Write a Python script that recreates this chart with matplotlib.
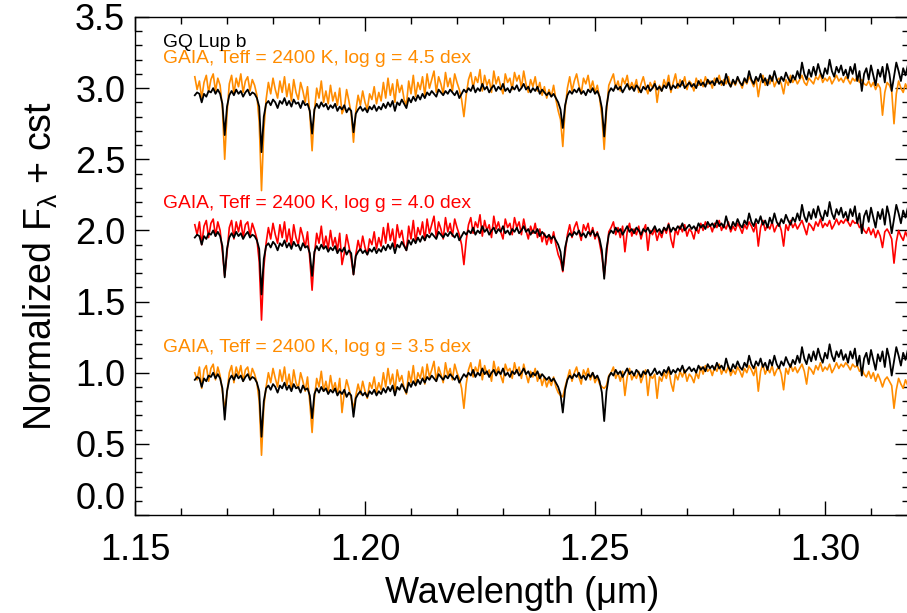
import numpy as np
import matplotlib
matplotlib.use('Agg')
import matplotlib.pyplot as plt
from matplotlib.ticker import MultipleLocator, FormatStrFormatter, FuncFormatter

plt.rcParams['font.family'] = ['Liberation Sans', 'DejaVu Sans']
plt.rcParams['mathtext.default'] = 'regular'

# wavelength grid (um), 0.0005 um sampling
lam_start, lam_step, npts = 1.1630, 0.0005, 314
wave = lam_start + lam_step * np.arange(npts)

# GQ Lup b, normalized (plotted with offsets 0, 1, 2)
gqlup = [
    0.95, 0.97, 0.96, 0.90, 0.96, 0.94, 0.98, 0.97, 1.00, 0.96, 0.99, 0.96, 0.89, 0.67, 0.87, 0.95, 0.98, 0.95, 0.99, 0.96,
    0.98, 0.94, 0.97, 0.99, 0.95, 0.97, 0.96, 0.93, 0.87, 0.55, 0.80, 0.89, 0.91, 0.88, 0.92, 0.90, 0.86, 0.91, 0.89, 0.93,
    0.88, 0.91, 0.87, 0.92, 0.89, 0.90, 0.86, 0.91, 0.88, 0.89, 0.84, 0.68, 0.85, 0.89, 0.86, 0.90, 0.87, 0.89, 0.85, 0.88,
    0.86, 0.89, 0.84, 0.87, 0.85, 0.88, 0.83, 0.86, 0.84, 0.69, 0.82, 0.85, 0.87, 0.84, 0.86, 0.83, 0.87, 0.85, 0.88, 0.84,
    0.87, 0.85, 0.89, 0.86, 0.90, 0.87, 0.91, 0.84, 0.90, 0.88, 0.92, 0.89, 0.86, 0.93, 0.90, 0.94, 0.91, 0.95, 0.92, 0.96,
    0.93, 0.97, 0.95, 0.98, 0.96, 0.94, 0.99, 0.97, 0.95, 0.98, 0.96, 0.99, 0.97, 0.95, 0.98, 0.93, 0.96, 0.99, 0.97, 1.00,
    0.98, 1.02, 0.97, 1.00, 0.98, 1.03, 0.99, 1.01, 0.97, 1.00, 1.02, 0.98, 1.01, 0.99, 1.03, 0.98, 1.00, 0.97, 1.01, 0.99,
    1.02, 0.98, 1.00, 1.03, 0.99, 1.01, 0.97, 1.00, 0.98, 1.01, 0.96, 0.99, 0.97, 0.95, 0.97, 0.94, 0.96, 0.93, 0.90, 0.85,
    0.72, 0.88, 0.95, 0.98, 0.96, 0.99, 0.97, 1.00, 0.96, 0.98, 0.95, 0.99, 0.97, 1.00, 0.96, 0.98, 0.94, 0.86, 0.66, 0.87,
    0.97, 1.00, 0.98, 1.02, 0.99, 1.01, 0.97, 1.00, 1.03, 0.99, 1.01, 0.98, 1.02, 1.00, 0.97, 1.01, 0.99, 1.02, 0.98, 1.00,
    1.03, 0.99, 1.01, 0.98, 1.02, 1.00, 1.04, 0.99, 1.02, 1.00, 1.03, 1.01, 1.05, 1.00, 1.02, 1.04, 1.01, 1.03, 1.00, 1.05,
    1.02, 1.04, 1.01, 1.06, 1.03, 1.05, 1.02, 1.07, 1.03, 1.05, 1.02, 1.10, 1.04, 1.01, 1.06, 1.03, 1.08, 1.04, 1.02, 1.07,
    1.04, 1.12, 1.06, 1.03, 1.08, 1.05, 1.10, 1.04, 1.07, 1.02, 1.09, 1.05, 1.12, 1.06, 1.03, 1.08, 1.05, 1.11, 1.07, 1.04,
    1.09, 1.06, 1.12, 1.07, 1.18, 1.10, 1.06, 1.13, 1.08, 1.15, 1.09, 1.17, 1.11, 1.07, 1.14, 1.10, 1.20, 1.12, 1.08, 1.15,
    1.11, 1.16, 1.09, 1.13, 1.07, 1.15, 1.10, 1.17, 1.05, 1.12, 0.98, 1.10, 1.14, 1.06, 1.16, 1.09, 1.02, 1.13, 1.08, 1.15,
    1.04, 1.17, 1.10, 0.98, 1.08, 1.18, 1.12, 1.05, 1.14, 1.09, 1.16, 1.10, 1.13, 1.08,
]

# GAIA Teff=2400 K, log g = 4.5
gaia_45 = [
    1.08, 0.99, 1.05, 0.93, 1.04, 1.09, 0.97, 1.06, 1.10, 0.98, 1.07, 1.02, 0.86, 0.50, 0.82, 1.03, 1.09, 0.96, 1.07, 1.01,
    1.10, 0.97, 1.05, 1.08, 0.98, 1.06, 1.02, 0.95, 0.76, 0.28, 0.70, 0.92, 1.04, 0.96, 1.07, 0.99, 0.93, 1.05, 0.97, 1.08,
    0.94, 1.03, 0.91, 1.06, 0.97, 0.92, 1.04, 0.98, 0.90, 1.01, 0.82, 0.56, 0.84, 1.00, 0.93, 1.05, 0.90, 0.98, 0.89, 1.02,
    0.91, 0.97, 0.88, 1.00, 0.82, 0.86, 0.99, 0.91, 0.82, 0.62, 0.84, 0.95, 0.88, 0.98, 0.90, 0.85, 0.96, 0.92, 1.01, 0.89,
    0.97, 0.91, 1.04, 0.93, 1.07, 0.95, 1.03, 0.90, 1.06, 0.97, 1.02, 0.92, 0.88, 1.05, 0.96, 1.09, 0.94, 1.04, 0.99, 1.08,
    0.95, 1.10, 1.00, 1.06, 1.12, 0.97, 1.08, 1.03, 0.96, 1.11, 1.01, 1.07, 0.98, 1.10, 1.04, 0.99, 0.92, 0.80, 0.95, 1.06,
    1.11, 1.00, 1.08, 1.04, 1.13, 0.98, 1.09, 1.02, 1.06, 0.97, 1.12, 1.03, 1.08, 1.01, 0.96, 1.10, 1.04, 1.07, 0.99, 1.11,
    1.05, 1.09, 1.00, 1.12, 1.03, 0.97, 1.06, 1.01, 1.08, 0.98, 1.04, 0.95, 1.01, 0.93, 0.99, 0.94, 1.02, 0.92, 0.84, 0.78,
    0.59, 0.85, 1.00, 1.08, 0.98, 1.05, 1.10, 1.02, 0.96, 1.07, 1.03, 1.09, 0.99, 1.05, 0.97, 1.02, 0.93, 0.80, 0.57, 0.84,
    1.02, 1.06, 1.10, 1.00, 1.05, 0.98, 1.07, 1.03, 1.09, 0.99, 1.04, 1.00, 1.06, 0.97, 1.03, 1.08, 1.01, 0.96, 1.04, 1.00,
    1.05, 0.90, 1.02, 0.98, 1.06, 1.01, 1.09, 0.97, 1.04, 1.10, 1.00, 1.06, 1.02, 1.08, 0.99, 1.05, 1.03, 0.98, 1.07, 1.02,
    1.06, 1.01, 1.08, 1.03, 1.05, 1.00, 1.07, 1.04, 1.09, 1.02, 1.06, 1.03, 1.08, 1.01, 1.05, 1.02, 1.07, 1.04, 1.00, 1.06,
    1.03, 1.08, 1.05, 1.01, 1.07, 0.94, 1.04, 1.09, 1.02, 1.06, 1.03, 1.08, 1.01, 1.05, 1.07, 1.03, 0.96, 1.06, 1.02, 1.09,
    1.04, 1.07, 1.03, 1.06, 1.09, 1.04, 1.02, 1.07, 1.05, 1.03, 1.08, 1.06, 1.10, 1.04, 1.07, 1.05, 1.08, 1.03, 1.06, 1.09,
    1.05, 1.07, 1.04, 1.08, 1.06, 1.03, 1.07, 1.05, 1.08, 1.04, 1.06, 1.03, 1.02, 1.05, 1.01, 1.04, 0.99, 1.03, 1.00, 0.81,
    0.97, 1.04, 1.02, 0.98, 0.75, 0.96, 1.05, 1.00, 0.97, 1.03, 0.99, 0.95, 1.01, 0.97,
]

# GAIA Teff=2400 K, log g = 4.0
gaia_40 = [
    1.04, 0.97, 1.06, 0.90, 1.03, 1.07, 0.95, 1.05, 1.08, 0.96, 1.06, 1.00, 0.85, 0.68, 0.84, 1.02, 1.07, 0.94, 1.06, 0.99,
    1.07, 0.95, 1.04, 1.06, 0.96, 1.05, 1.00, 0.94, 0.78, 0.37, 0.74, 0.91, 1.02, 0.94, 1.05, 0.97, 0.91, 1.04, 0.95, 1.06,
    0.92, 1.01, 0.89, 1.04, 0.95, 0.90, 1.02, 0.96, 0.88, 0.99, 0.80, 0.58, 0.83, 0.98, 0.91, 1.03, 0.88, 0.96, 0.87, 1.00,
    0.89, 0.95, 0.86, 0.98, 0.76, 0.84, 0.97, 0.89, 0.80, 0.69, 0.83, 0.93, 0.86, 0.96, 0.88, 0.83, 0.94, 0.90, 0.99, 0.87,
    0.95, 0.89, 1.02, 0.91, 1.05, 0.93, 1.01, 0.88, 1.04, 0.95, 1.00, 0.90, 0.86, 1.03, 0.94, 1.07, 0.92, 1.02, 0.97, 1.06,
    0.93, 1.08, 0.98, 1.04, 1.10, 0.95, 1.06, 1.01, 0.94, 1.09, 0.99, 1.05, 0.96, 1.08, 1.02, 0.97, 0.90, 0.76, 0.93, 1.04,
    1.09, 0.98, 1.06, 1.02, 1.11, 0.96, 1.07, 1.00, 1.04, 0.95, 1.10, 1.01, 1.06, 0.99, 0.94, 1.08, 1.02, 1.05, 0.97, 1.09,
    1.02, 1.06, 0.97, 1.08, 1.00, 0.94, 1.03, 0.98, 1.05, 0.95, 1.01, 0.92, 0.98, 0.90, 0.96, 0.91, 0.99, 0.90, 0.83, 0.79,
    0.71, 0.84, 0.97, 1.04, 0.95, 1.02, 1.06, 0.99, 0.93, 1.04, 1.00, 1.05, 0.96, 1.02, 0.94, 0.99, 0.91, 0.82, 0.68, 0.83,
    0.99, 1.02, 1.06, 0.97, 1.02, 0.95, 1.03, 0.85, 0.99, 1.05, 0.96, 1.01, 0.97, 1.03, 0.94, 1.00, 1.04, 0.86, 1.00, 0.97,
    1.01, 0.93, 0.99, 0.95, 1.02, 0.98, 1.05, 0.94, 0.88, 1.01, 0.97, 1.03, 0.99, 1.04, 0.96, 1.01, 0.99, 0.94, 1.02, 0.98,
    1.05, 1.00, 1.06, 1.02, 1.04, 0.99, 1.05, 1.02, 1.07, 1.00, 1.04, 1.01, 1.06, 0.99, 1.03, 1.00, 1.05, 1.02, 0.98, 1.04,
    1.01, 1.06, 1.03, 0.99, 1.05, 0.89, 1.02, 1.07, 1.00, 1.04, 1.01, 1.06, 0.99, 1.03, 1.05, 1.00, 0.89, 1.04, 1.00, 1.07,
    1.02, 1.05, 1.01, 1.04, 1.07, 1.02, 0.97, 1.05, 1.03, 1.00, 1.06, 1.03, 1.08, 1.02, 1.05, 1.03, 1.07, 1.01, 1.04, 1.08,
    1.04, 1.07, 1.05, 1.08, 1.06, 1.03, 1.07, 1.05, 1.06, 1.02, 1.04, 1.00, 0.98, 1.02, 0.97, 1.01, 0.95, 1.00, 0.96, 0.88,
    0.99, 1.01, 0.98, 0.94, 0.77, 0.92, 1.00, 0.96, 0.93, 0.99, 0.95, 0.91, 0.97, 0.94,
]

# GAIA Teff=2400 K, log g = 3.5
gaia_35 = [
    1.00, 0.95, 1.04, 0.89, 1.02, 1.05, 0.94, 1.03, 1.06, 0.95, 1.04, 0.98, 0.87, 0.74, 0.86, 1.00, 1.05, 0.93, 1.04, 0.98,
    1.05, 0.94, 1.02, 1.04, 0.95, 1.03, 0.99, 0.93, 0.80, 0.42, 0.76, 0.90, 1.00, 0.93, 1.03, 0.96, 0.90, 1.02, 0.94, 1.04,
    0.91, 0.99, 0.88, 1.02, 0.93, 0.89, 1.00, 0.94, 0.87, 0.97, 0.79, 0.58, 0.82, 0.96, 0.90, 1.01, 0.87, 0.94, 0.86, 0.98,
    0.88, 0.93, 0.85, 0.96, 0.72, 0.86, 0.95, 0.89, 0.82, 0.75, 0.84, 0.92, 0.85, 0.94, 0.87, 0.82, 0.93, 0.89, 0.97, 0.86,
    0.93, 0.88, 1.00, 0.90, 1.03, 0.92, 0.99, 0.87, 1.02, 0.94, 0.98, 0.89, 0.85, 1.01, 0.93, 1.05, 0.91, 1.00, 0.96, 1.04,
    0.92, 1.06, 0.97, 1.02, 1.08, 0.94, 1.04, 0.99, 0.93, 1.07, 0.98, 1.03, 0.95, 1.06, 1.00, 0.96, 0.89, 0.75, 0.92, 1.02,
    1.07, 0.97, 1.04, 1.00, 1.09, 0.95, 1.05, 0.99, 1.02, 0.94, 1.08, 1.00, 1.04, 0.98, 0.93, 1.06, 1.01, 1.03, 0.96, 1.07,
    1.00, 1.04, 0.96, 1.06, 0.99, 0.93, 1.01, 0.97, 1.03, 0.94, 0.99, 0.91, 0.97, 0.90, 0.95, 0.91, 0.97, 0.90, 0.86, 0.84,
    0.83, 0.90, 0.96, 1.02, 0.94, 1.00, 1.04, 0.97, 0.92, 1.02, 0.98, 1.03, 0.95, 1.00, 0.93, 0.97, 0.92, 0.90, 0.89, 0.91,
    0.98, 1.00, 1.04, 0.96, 1.00, 0.94, 1.01, 0.84, 0.97, 1.03, 0.95, 0.99, 0.96, 1.01, 0.93, 0.98, 1.02, 0.84, 0.98, 0.96,
    0.99, 0.82, 0.97, 0.94, 1.00, 0.96, 1.03, 0.93, 0.87, 0.99, 0.95, 1.01, 0.97, 1.02, 0.94, 0.99, 0.97, 0.93, 1.00, 0.96,
    1.04, 0.99, 1.05, 1.01, 1.03, 0.98, 1.04, 1.01, 1.06, 0.99, 1.03, 1.00, 1.05, 0.98, 1.02, 0.99, 1.04, 1.01, 0.97, 1.03,
    1.00, 1.05, 1.02, 0.98, 1.04, 0.87, 1.01, 1.06, 0.99, 1.03, 1.00, 1.05, 0.98, 1.02, 1.04, 0.99, 0.88, 1.03, 0.99, 1.06,
    1.01, 1.04, 1.00, 1.03, 1.06, 1.01, 0.92, 1.04, 1.02, 0.99, 1.05, 1.02, 1.07, 1.01, 1.04, 1.02, 1.06, 1.00, 1.03, 1.07,
    1.03, 1.06, 1.04, 1.07, 1.05, 1.02, 1.06, 1.04, 1.05, 1.01, 1.03, 0.99, 0.97, 1.01, 0.96, 1.00, 0.94, 0.99, 0.95, 0.90,
    0.95, 0.97, 0.94, 0.91, 0.75, 0.88, 0.96, 0.92, 0.89, 0.95, 0.91, 0.87, 0.93, 0.90,
]

orange = '#ff8c00'
red = '#ff0000'
models = [(gaia_45, 2.0, orange, 'GAIA, Teff = 2400 K, log g = 4.5 dex', 3.21),
          (gaia_40, 1.0, red, 'GAIA, Teff = 2400 K, log g = 4.0 dex', 2.19),
          (gaia_35, 0.0, orange, 'GAIA, Teff = 2400 K, log g = 3.5 dex', 1.18)]

fig = plt.figure(figsize=(9.07, 6.13), dpi=100)
# right spine sits just outside the picture, as in the original
ax = fig.add_axes([135/907, 98/613, 774/907, 498/613])

for mod, off, col, lab, ytxt in models:
    ax.plot(wave, np.array(mod) + off, color=col, lw=1.2)
    ax.plot(wave, np.array(gqlup) + off, color='black', lw=1.3)
    ax.text(1.1561, ytxt, lab, color=col, fontsize=13.9, va='center')
ax.text(1.1561, 3.32, 'GQ Lup b', color='black', fontsize=13.9, va='center')

ax.set_xlim(1.15, 1.15 + 774/4600)
ax.set_ylim(0.0, 3.5)
ax.xaxis.set_major_locator(MultipleLocator(0.05))
ax.xaxis.set_minor_locator(MultipleLocator(0.01))
ax.yaxis.set_major_locator(MultipleLocator(0.5))
ax.yaxis.set_minor_locator(MultipleLocator(0.1))
ax.xaxis.set_major_formatter(FormatStrFormatter('%.2f'))
# the 0.0 label is drawn a bit higher, clear of the x labels
ax.yaxis.set_major_formatter(FuncFormatter(lambda v, p: '' if abs(v) < 1e-9 else '%.1f' % v))
ax.annotate('0.0', xy=(0, 0), xycoords='axes fraction', xytext=(-7, 11),
            textcoords='offset points', ha='right', va='center', fontsize=26)
ax.tick_params(which='both', direction='in', top=True, right=True, labelsize=26, width=1)
ax.tick_params(which='major', length=10)
ax.tick_params(which='minor', length=5)
ax.tick_params(axis='y', pad=7)
ax.tick_params(axis='x', pad=13)
for s in ax.spines.values():
    s.set_linewidth(1.0)

ax.set_xlabel('Wavelength (\u03bcm)', fontsize=26, labelpad=6)
ax.set_ylabel('Normalized F$_{\\lambda}$ + cst', fontsize=27, labelpad=11)

fig.savefig('out.png', dpi=100)
